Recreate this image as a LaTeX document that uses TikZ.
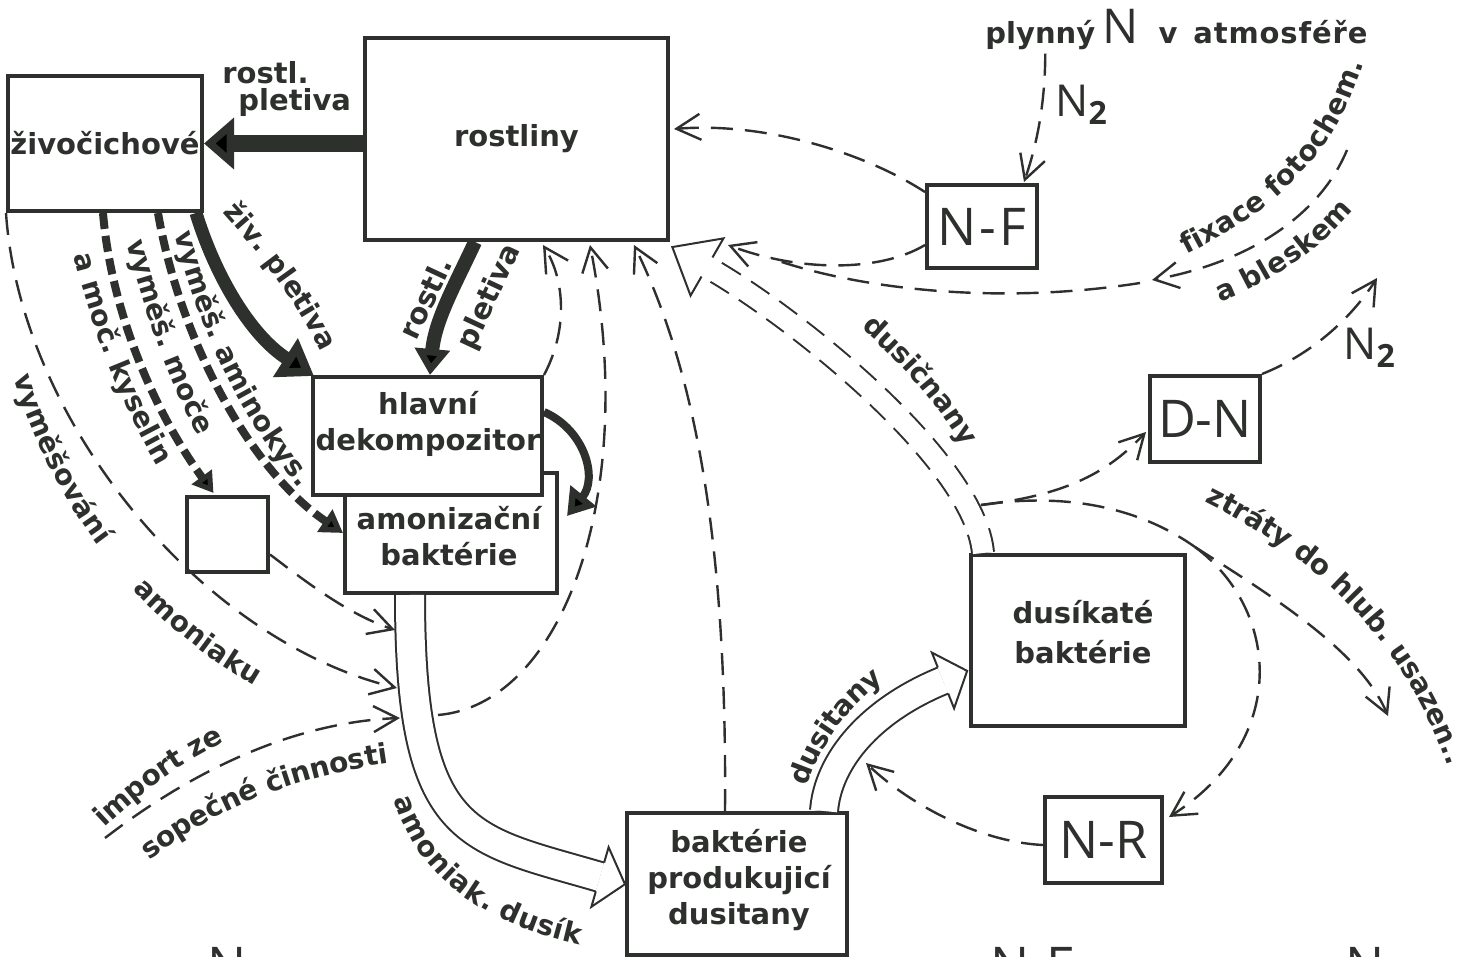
\documentclass[tikz,border=0pt]{standalone}
\usepackage{fontspec}
\setmainfont{DejaVu Sans}
\newfontfamily\thinfont{Open Sans}
\usetikzlibrary{arrows.meta,decorations.text,calc}
\definecolor{ink}{RGB}{45,48,45}
\newcommand\BoxLabelFont{\fontsize{14.5}{18}\selectfont\bfseries}
\newcommand\FlowLabelFont{\fontsize{14}{16}\selectfont\bfseries}
\newcommand\SymLabelFont{\fontsize{26}{28}\selectfont\thinfont}
% open block-arrow head in a local frame whose x axis points along the flow
% #1 half distance of the shaft edges, #2 half width of the barbs, #3 length
\newcommand\HollowTip[3]{%
  \fill[white] (0,-#1) -- (0,-#2) -- (#3,0) -- (0,#2) -- (0,#1) -- cycle;
  \draw[ink, line width=1pt, solid, line join=miter] (0,-#1) -- (0,-#2) -- (#3,0) -- (0,#2) -- (0,#1);}

\begin{document}
\begin{tikzpicture}[x=0.5pt, y=-0.5pt,
  box/.style={draw=ink, line width=2pt, fill=white, inner sep=0pt},
  lab/.style={font=\BoxLabelFont, text=ink, inner sep=0pt, align=center},
  sym/.style={font=\SymLabelFont, text=ink, inner sep=0pt},
  thin/.style={draw=ink, line width=1.2pt, dash pattern=on 11pt off 6pt},
  thinarr/.style={thin, -{Straight Barb[length=12pt,width=13pt]}},
  heavy/.style={draw=ink, line width=#1},
  heavydash/.style={draw=ink, line width=4pt, dash pattern=on 8pt off 3.5pt},
  hollow/.style={draw=ink, line width=1pt, double=white, double distance=#1},
  along/.style={decorate, decoration={text along path, text={|\FlowLabelFont|#1},
      text color=ink, text align=center, raise=-4pt}},
]
\fill[white] (0,0) rectangle (1480,957);
\path[use as bounding box, clip] (0,0) rectangle (1480,957);

% ---------- boxes ----------
\node[box, minimum width=97pt, minimum height=67.5pt, lab] (zivoc) at (105,143.5) {živočichové};
\node[box, minimum width=151.5pt, minimum height=101pt, lab] (rost) at (516.5,139) {rostliny};
\node[box, minimum width=106pt, minimum height=60pt] (amon) at (451,533) {};
\node[box, minimum width=114.5pt, minimum height=59pt] (hlav) at (427.5,436) {};
\node[lab] (hlavtxt) at (428,424) {hlavní\\dekompozitor};
\node[lab] (amontxt) at (449,536) {amonizační\\baktérie};
\node[box, minimum width=40.5pt, minimum height=37.5pt] (small) at (227.5,534.5) {};
\node[box, minimum width=55pt, minimum height=41.5pt, sym] (nf) at (982,226.5) {N\kern1.5pt-\kern1.5pt F};
\node[box, minimum width=55pt, minimum height=43pt, sym] (dn) at (1205,419) {D-N};
\node[box, minimum width=107pt, minimum height=85.5pt] (dusik) at (1078,640.5) {};
\node[lab, font=\fontsize{14.5}{20}\selectfont\bfseries] (dusiktxt) at (1083,632) {dusíkaté\\baktérie};
\node[box, minimum width=58.5pt, minimum height=43pt, sym] (nr) at (1103.5,840) {N-R};
\node[box, minimum width=110pt, minimum height=71pt] (bpd) at (737,884) {};
\node[lab] (bpdtxt) at (739,880) {baktérie\\produkujicí\\dusitany};

% ---------- free labels ----------
\node[lab, anchor=base west] (plyn) at (985,44) {plynný};
\node[sym, font=\fontsize{24}{26}\selectfont\thinfont, anchor=base] (bigN) at (1121,44) {N};
\node[lab, anchor=base] (vv) at (1168,44) {v};
\node[lab, anchor=base west, font=\BoxLabelFont\addfontfeature{LetterSpace=3}] (atm) at (1193,44) {atmosféře};
\node[sym, font=\fontsize{22}{24}\selectfont\thinfont, anchor=base west] (n2top) at (1055,117)
  {N\raisebox{-4pt}{\fontsize{16}{16}\selectfont\bfseries 2}};
\node[sym, font=\fontsize{22}{24}\selectfont\thinfont, anchor=base west] (n2dn) at (1343,360)
  {N\raisebox{-4pt}{\fontsize{16}{16}\selectfont\bfseries 2}};
\node[lab, anchor=base west] (rostlA) at (222,84) {rostl.};
\node[lab, anchor=base west] (pletA) at (238,111) {pletiva};
\node[lab, rotate=65] (rostlB) at (425,298) {rostl.};
\node[lab, rotate=65] (pletB) at (490,297) {pletiva};
\node[sym, anchor=base west] (cutA) at (207,984) {N};
\node[sym, anchor=base west] (cutB) at (990,984) {N-F};
\node[sym, anchor=base west] (cutC) at (1345,984) {N};

% ---------- labels set along the flows ----------
\path[along={živ. pletiva}] (216,194) .. controls (258,240) and (302,290) .. (336,365);
\path[along={vyměš. aminokys.}] (178,210) .. controls (200,320) and (252,425) .. (320,500);
\path[along={vyměš. moče}] (128,215) .. controls (148,300) and (177,385) .. (218,455);
\path[along={a moč. kyselin}] (74,222) .. controls (95,320) and (132,415) .. (182,490);
\path[along={vyměšování}] (14,352) .. controls (35,430) and (70,500) .. (120,560);
\path[along={amoniaku}] (125,570) .. controls (170,620) and (215,655) .. (275,688);
\path[along={import ze}] (78,842) .. controls (130,790) and (180,750) .. (248,724);
\path[along={sopečné činnosti}] (122,872) .. controls (200,805) and (290,765) .. (416,752);
\path[along={amoniak. dusík}] (395,770) .. controls (412,865) and (480,920) .. (608,942);
\path[along={dusitany}] (796,795) .. controls (810,745) and (840,700) .. (888,668);
\path[along={dusičnany}] (850,308) .. controls (895,345) and (950,400) .. (980,462);
\path[along={fixace fotochem.}] (1168,255) .. controls (1250,215) and (1330,165) .. (1360,45);
\path[along={a bleskem}] (1198,302) .. controls (1260,280) and (1320,245) .. (1360,188);
\path[along={ztráty do hlub. usazen..}] (1188,485) .. controls (1320,545) and (1420,640) .. (1462,785);

% ---------- solid tissue flows ----------
\draw[heavy=8.5pt, -{Triangle[length=15pt,width=25pt]}] (rost.west |- zivoc.east) -- (zivoc.east);
\draw[heavy=6.5pt, -{Triangle[length=17pt,width=22pt]}] ($(zivoc.south east)+(-8,0)$)
  .. controls (215,275) and (250,335) .. ($(hlav.north west)+(3,1)$);
\draw[heavy=7pt, -{Triangle[length=13pt,width=17pt]}] ($(rost.south west)+(112,0)$)
  .. controls (455,285) and (435,320) .. ($(hlav.north west)+(119,0)$);
\draw[heavy=4pt, -{Triangle[length=13pt,width=16pt]}] ($(hlav.east)+(0,-24)$)
  .. controls (585,430) and (598,478) .. ($(amon.north east)+(8,45)$);

% ---------- excretion flows ----------
\draw[heavydash, -{Triangle[length=10pt,width=12pt]}] ($(zivoc.south west)+(97,0)$)
  .. controls (112,320) and (160,420) .. ($(small.north)+(-14,-2)$);
\draw[heavydash, -{Triangle[length=11pt,width=13pt]}] ($(zivoc.south west)+(152,0)$)
  .. controls (180,340) and (250,470) .. (amon.west);

% ---------- free end points ----------
\coordinate (fixtop) at (1347,150);
\coordinate (fixtip) at (1152,280);
\coordinate (fixrest) at (1140,283);
\coordinate (fixjoin) at (770,258);
\coordinate (dnout) at (1377,278);
\coordinate (branch) at (981,505);
\coordinate (split) at (1195,547);
\coordinate (ztrend) at (1388,716);
\coordinate (dusitR) at (866,763);
\coordinate (amoR) at (438,715);
\coordinate (amoL1) at (395,630);
\coordinate (amoL2) at (397,688);
\coordinate (impstart) at (105,838);
\coordinate (amoL3) at (400,718);

% ---------- dashed nitrogen flows ----------
\draw[thinarr] ($(plyn.south)+(5,3)$) .. controls (1045,110) and (1035,150) .. ($(nf.north east)+(-15,-1)$);
\draw[thinarr] ($(nf.north west)+(0,9)$) .. controls (860,150) and (760,122) .. ($(rost.east)+(4,-10)$);
\draw[thinarr] ($(nf.south west)+(0,-25)$) .. controls (880,272) and (800,272) .. ($(rost.south east)+(58,3)$);
\draw[thinarr] (fixtop) .. controls (1320,215) and (1250,262) .. (fixtip);
\draw[thin] (fixrest) .. controls (1000,305) and (860,290) .. (fixjoin);
\draw[thinarr] (dn.north east) .. controls (1310,355) and (1350,320) .. (dnout);
\draw[thinarr] (branch) .. controls (1070,495) and (1110,470) .. ($(dn.west)+(-2,13)$);
\draw[thin] (branch) .. controls (1080,490) and (1150,515) .. (split);
\draw[thinarr] (split) .. controls (1270,595) and (1360,650) .. (ztrend);
\draw[thinarr] (split) .. controls (1280,610) and (1290,740) .. ($(nr.east)+(5,-23)$);
\draw[thinarr] ($(nr.west)+(0,5)$) .. controls (980,842) and (910,805) .. (dusitR);
\draw[thinarr] (hlav.north east) .. controls (568,330) and (565,280) .. ($(rost.south west)+(180,3)$);
\draw[thinarr] (amoR) .. controls (560,705) and (640,500) .. ($(rost.south west)+(227,3)$);
\draw[thinarr] ($(bpd.north west)+(100,0)$) .. controls (727,560) and (700,380) .. ($(rost.south west)+(271,3)$);
\draw[thinarr] ($(small.east)+(0,20)$) .. controls (310,585) and (350,615) .. (amoL1);
\draw[thinarr] (zivoc.south west) .. controls (20,420) and (200,640) .. (amoL2);
\draw[thinarr] (impstart) .. controls (200,765) and (300,722) .. (amoL3);

% ---------- open block arrows ----------
% ammonia nitrogen
\draw[hollow=14pt] ($(amon.south west)+(67,0)$) .. controls (410,840) and (467,838) .. ($(bpd.west)+(-25,-7)$);
\begin{scope}[shift={($(bpd.west)+(-25,-7)$)}, rotate=-16.1]
  \HollowTip{15}{31}{26}
\end{scope}
% nitrites
\draw[hollow=13pt] ($(bpd.north west)+(199,0)$) .. controls (828,760) and (871,710) .. ($(dusik.west)+(-26,40)$);
\begin{scope}[shift={($(dusik.west)+(-26,40)$)}, rotate=21.7]
  \HollowTip{14}{30}{26}
\end{scope}
% nitrates: dashed edges on a white band
\draw[ink, line width=12pt, dash pattern=on 11pt off 6pt] ($(dusik.north west)+(14,0)$)
  .. controls (975,460) and (792,315) .. ($(rost.south east)+(37,25)$);
\draw[white, line width=10pt] ($(dusik.north west)+(14,0)$)
  .. controls (975,460) and (792,315) .. ($(rost.south east)+(37,25)$);
\begin{scope}[shift={($(rost.south east)+(37,25)$)}, rotate=150.1]
  \HollowTip{11}{33}{40}
\end{scope}
\end{tikzpicture}
\end{document}
